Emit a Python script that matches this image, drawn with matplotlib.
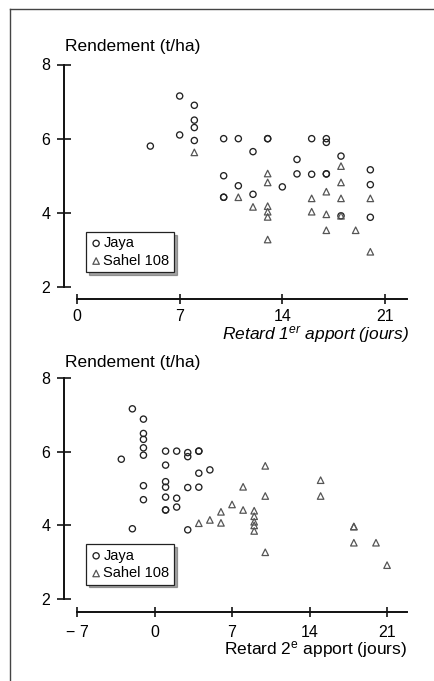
import matplotlib
matplotlib.use('Agg')
import matplotlib.pyplot as plt
from matplotlib.lines import Line2D

plt.rcParams['font.family'] = ['Liberation Sans', 'DejaVu Sans']
plt.rcParams['mathtext.fontset'] = 'custom'
plt.rcParams['mathtext.rm'] = 'Liberation Sans'
plt.rcParams['mathtext.it'] = 'Liberation Sans:italic'

# panel 1 : retard du 1er apport (jours) / rendement (t/ha)
jaya1_x = [5, 7, 7, 8, 8, 8, 8, 10, 10, 10, 10, 11, 11, 12, 12, 13, 13, 14, 15, 15,
           16, 16, 17, 17, 17, 17, 18, 18, 20, 20, 20]
jaya1_y = [5.8, 7.15, 6.1, 6.9, 6.5, 6.3, 5.95, 6.0, 5.0, 4.42, 4.42, 6.0, 4.73, 5.65, 4.5,
           6.0, 6.0, 4.7, 5.44, 5.05, 6.0, 5.04, 6.0, 5.9, 5.05, 5.05, 5.53, 3.92, 5.16, 4.76, 3.88]
sahel1_x = [8, 11, 12, 13, 13, 13, 13, 13, 13, 16, 16, 17, 17, 17, 18, 18, 18, 18, 19, 20, 20]
sahel1_y = [5.63, 4.42, 4.16, 5.06, 4.82, 4.18, 4.03, 3.89, 3.28, 4.39, 4.03, 4.57, 3.96, 3.53,
            5.26, 4.82, 4.39, 3.92, 3.53, 4.39, 2.95]

# panel 2 : retard du 2e apport (jours)
jaya2_x = [-3, -2, -2, -1, -1, -1, -1, -1, -1, -1, 1, 1, 1, 1, 1, 1, 1, 2, 2, 2,
           3, 3, 3, 3, 4, 4, 4, 4, 5]
jaya2_y = [5.8, 7.17, 3.91, 6.89, 6.5, 6.34, 6.11, 5.91, 5.08, 4.7, 6.02, 5.64, 5.19, 5.04,
           4.77, 4.42, 4.42, 6.02, 4.74, 4.5, 5.98, 5.87, 5.03, 3.88, 6.02, 6.02, 5.42, 5.04, 5.51]
sahel2_x = [4, 5, 6, 6, 7, 8, 8, 9, 9, 9, 9, 9, 10, 10, 10, 15, 15, 18, 18, 18, 20, 21]
sahel2_y = [4.06, 4.15, 4.37, 4.07, 4.57, 5.05, 4.42, 4.4, 4.25, 4.1, 4.0, 3.85, 5.62, 4.8,
            3.27, 5.23, 4.8, 3.97, 3.97, 3.53, 3.53, 2.92]

yticks = [2, 4, 6, 8]
xticks1 = [0, 7, 14, 21]
xticks2 = [-7, 0, 7, 14, 21]
xlabels2 = ['\u2212 7', '0', '7', '14', '21']
names = ['Jaya', 'Sahel 108']

W, H = 435, 681
fig = plt.figure(figsize=(W / 100, H / 100), dpi=100)


def px(x0, y0, x1, y1):
    # pixel box -> figure fraction rect
    return [x0 / W, 1 - y1 / H, (x1 - x0) / W, (y1 - y0) / H]


def setup(ax, xlim, xt, xl, out_b, xpad):
    ax.set_xlim(*xlim)
    ax.set_ylim(2, 8)
    for s in ['top', 'right']:
        ax.spines[s].set_visible(False)
    ax.spines['left'].set_position(('outward', 9.4))
    ax.spines['bottom'].set_position(('outward', out_b))
    for s in ['left', 'bottom']:
        ax.spines[s].set_linewidth(1.4)
        ax.spines[s].set_color('#111111')
    ax.set_yticks(yticks)
    ax.set_xticks(xt)
    ax.set_xticklabels(xl)
    ax.tick_params(axis='y', direction='inout', length=9.5, width=1.1, pad=5, labelsize=11.5)
    ax.tick_params(axis='x', direction='inout', length=7, width=1.1, pad=xpad, labelsize=11.5)
    ax.patch.set_alpha(0)


def draw(ax, jx, jy, sx, sy):
    ax.scatter(jx, jy, s=20, marker='o', facecolors='none', edgecolors='#222222',
               linewidths=0.95, label=names[0], zorder=3)
    ax.scatter(sx, sy, s=22, marker='^', facecolors='none', edgecolors='#555555',
               linewidths=0.9, label=names[1], zorder=3)
    leg = ax.legend(loc='upper left', bbox_to_anchor=(0.027, 0.248), fontsize=10.5,
                    frameon=True, fancybox=False, shadow=True, framealpha=1,
                    edgecolor='#222222', borderpad=0.3, labelspacing=0.25,
                    handletextpad=0.1, handlelength=0.8, borderaxespad=0)
    leg.get_frame().set_linewidth(0.9)


ax1 = fig.add_axes(px(77, 64.5, 407, 287))
setup(ax1, (0, 22.5), xticks1, [str(v) for v in xticks1], 8.6, 3.5)
draw(ax1, jaya1_x, jaya1_y, sahel1_x, sahel1_y)

ax2 = fig.add_axes(px(77, 378.3, 407, 599))
setup(ax2, (-7, 22.8), xticks2, xlabels2, 9.4, 6)
draw(ax2, jaya2_x, jaya2_y, sahel2_x, sahel2_y)

fig.text(65 / W, 1 - 51 / H, 'Rendement (t/ha)', fontsize=12.5, va='baseline')
fig.text(65 / W, 1 - 366.5 / H, 'Rendement (t/ha)', fontsize=12.5, va='baseline')
fig.text(409 / W, 1 - 340 / H, 'Retard 1$^{\\mathit{er}}$ apport (jours)', fontsize=12.5,
         ha='right', va='baseline', style='italic')
fig.text(407 / W, 1 - 654 / H, 'Retard 2$^{\\mathrm{e}}$ apport (jours)', fontsize=12.5,
         ha='right', va='baseline')

# page frame
fig.add_artist(Line2D([10 / W, 1], [1 - 9 / H, 1 - 9 / H], transform=fig.transFigure,
                      color='#444444', lw=1.0))
fig.add_artist(Line2D([10 / W, 10 / W], [1 - 9 / H, 0], transform=fig.transFigure,
                      color='#444444', lw=1.0))

fig.savefig('out.png', dpi=100)
